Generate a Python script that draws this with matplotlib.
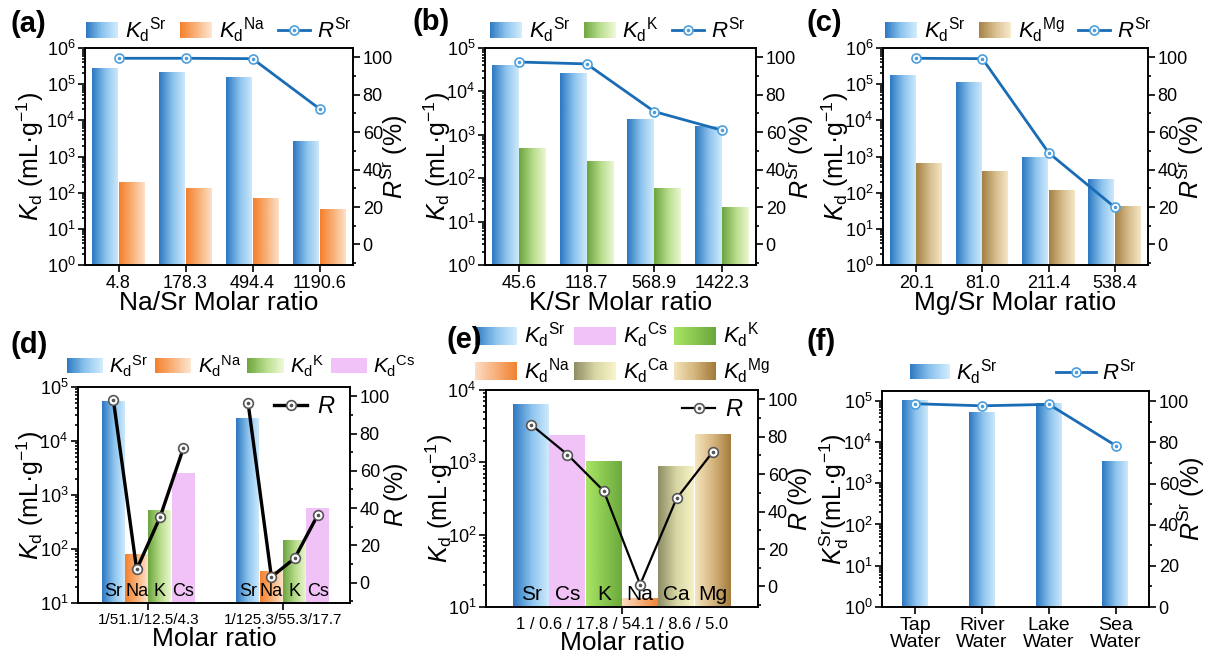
import numpy as np
import matplotlib
matplotlib.use("Agg")
import matplotlib.pyplot as plt
from matplotlib.colors import LinearSegmentedColormap
from matplotlib.legend_handler import HandlerBase
from matplotlib.patches import Rectangle
from matplotlib.ticker import LogLocator, MultipleLocator, NullFormatter, NullLocator

plt.rcParams["font.family"] = ["Liberation Sans", "DejaVu Sans"]
plt.rcParams["mathtext.fontset"] = "custom"
plt.rcParams["mathtext.rm"] = "Liberation Sans"
plt.rcParams["mathtext.it"] = "Liberation Sans:italic"
plt.rcParams["mathtext.bf"] = "Liberation Sans:bold"
plt.rcParams["axes.linewidth"] = 1.2

# (a) Na/Sr
na_ratio = ["4.8", "178.3", "494.4", "1190.6"]
a_kd_sr = [2.8e5, 2.3e5, 1.6e5, 2.7e3]
a_kd_na = [210, 135, 72, 37]
a_r_sr = [99.5, 99.5, 99.3, 72.5]

# (b) K/Sr
k_ratio = ["45.6", "118.7", "568.9", "1422.3"]
b_kd_sr = [4.1e4, 2.7e4, 2.4e3, 1.6e3]
b_kd_k = [500, 250, 60, 22]
b_r_sr = [97.5, 96.5, 71.0, 61.0]

# (c) Mg/Sr
mg_ratio = ["20.1", "81.0", "211.4", "538.4"]
c_kd_sr = [1.9e5, 1.15e5, 1.0e3, 250]
c_kd_mg = [680, 400, 125, 43]
c_r_sr = [99.5, 99.3, 49.0, 19.8]

# (d) mixed Na/K/Cs
d_ratio = ["1/51.1/12.5/4.3", "1/125.3/55.3/17.7"]
d_ions = ["Sr", "Na", "K", "Cs"]
d_kd_sr = [5.7e4, 2.7e4]
d_kd_na = [84, 40]
d_kd_k = [550, 152]
d_kd_cs = [2.6e3, 580]
d_r_g1 = [98, 7, 35, 72]
d_r_g2 = [96.5, 3, 13, 36.5]

# (e) all ions
e_ions = ["Sr", "Cs", "K", "Na", "Ca", "Mg"]
e_ratio = "1 / 0.6 / 17.8 / 54.1 / 8.6 / 5.0"
e_kd = [6.6e3, 2.4e3, 1.05e3, 13.5, 900, 2.5e3]
e_r = [86.5, 70.5, 51, 1, 47, 72]

# (f) real waters
waters = ["Tap\nWater", "River\nWater", "Lake\nWater", "Sea\nWater"]
f_kd_sr = [1.05e5, 5.6e4, 9.0e4, 3.6e3]
f_r_sr = [98.8, 97.8, 98.5, 78.5]

BLUE = ["#2f7ac2", "#8cc3ee", "#d2ecfc"]
ORANGE = ["#f5812e", "#f9b27a", "#fde6d2"]
GREEN = ["#6ea640", "#b6dc8a", "#eef8d6"]
MG = ["#a58246", "#d6bd8c", "#f7eacb"]
PINK = ["#f0c2f7", "#f0c2f7"]
E_NA = ["#fddcc4", "#f08232"]
E_K = ["#a8e464", "#6aa83c"]
E_CA = ["#8f8e66", "#d8d6a4", "#f8f4c8"]
E_MG = ["#f4e4bc", "#d4b47c", "#a27a3a"]
RLINE = "#1a6db5"
RMARK = "#4d9fdc"

W, H = 1206, 654
fig = plt.figure(figsize=(12.06, 6.54), dpi=100)


def add_ax(l, t, r, b):
    return fig.add_axes([l / W, 1 - b / H, (r - l) / W, (b - t) / H])


def cmap_of(cols):
    return LinearSegmentedColormap.from_list("g", cols)


def grad_bar(ax, x, h, w, cols, bottom):
    h = np.asarray(h, dtype=float)
    bars = ax.bar(x, h - bottom, w, bottom=bottom, color="none", edgecolor="none")
    grad = np.linspace(0, 1, 128).reshape(1, -1)
    for b in bars:
        x0, y0 = b.get_x(), b.get_y()
        im = ax.imshow(grad, cmap=cmap_of(cols), aspect="auto", interpolation="bilinear",
                       extent=(x0, x0 + b.get_width(), y0, y0 + b.get_height()), zorder=1)
        im.set_clip_path(b)
    return bars


class GradHandler(HandlerBase):
    def __init__(self, cols, n=40):
        super().__init__()
        self.cols, self.n = cols, n

    def create_artists(self, legend, orig_handle, xdescent, ydescent, width, height,
                       fontsize, trans):
        cm = cmap_of(self.cols)
        out = []
        for i in range(self.n):
            out.append(Rectangle((-xdescent + width * i / self.n, -ydescent),
                                 width / self.n * 1.08, height, facecolor=cm(i / (self.n - 1)),
                                 edgecolor="none", transform=trans))
        return out


def proxy(cols, hmap):
    p = Rectangle((0, 0), 1, 1)
    hmap[p] = GradHandler(cols)
    return p


def style(ax, ax2, ylo, yhi, rlo=-11, rhi=105):
    ax.set_yscale("log")
    ax.set_ylim(ylo, yhi)
    ax.yaxis.set_major_locator(LogLocator(base=10, numticks=12))
    ax.yaxis.set_minor_locator(LogLocator(base=10, subs=np.arange(2, 10), numticks=30))
    ax.yaxis.set_minor_formatter(NullFormatter())
    ax.xaxis.set_minor_locator(NullLocator())
    ax.tick_params(which="both", direction="out", width=1.2, labelsize=13, pad=2)
    ax.tick_params(which="major", length=5)
    ax.tick_params(which="minor", length=2.5)
    ax2.set_ylim(rlo, rhi)
    ax2.yaxis.set_major_locator(MultipleLocator(20))
    ax2.yaxis.set_minor_locator(MultipleLocator(10))
    ax2.tick_params(which="both", direction="out", width=1.2, labelsize=13, pad=2)
    ax2.tick_params(which="major", length=5)
    ax2.tick_params(which="minor", length=2.5)


def labels(ax, ax2, xlab, xy, ylab, ly, rlab, ry):
    if xlab:
        ax.set_xlabel(xlab, fontsize=19)
        ax.xaxis.set_label_coords(0.5, xy)
        ax.xaxis.label.set_va("center")
    ax.set_ylabel(ylab, fontsize=18)
    ax.yaxis.set_label_coords(ly, 0.5)
    ax.yaxis.label.set_va("center")
    ax2.set_ylabel(rlab, fontsize=18)
    ax2.yaxis.set_label_coords(ry, 0.5)
    ax2.yaxis.label.set_va("center")


def r_line(ax2, x, y, color, mec, lw, ms):
    ln, = ax2.plot(x, y, color=color, lw=lw, marker="o", ms=ms, mfc="white", mec=mec,
                   mew=1.2, zorder=3)
    dot, = ax2.plot(x, y, ls="none", marker="o", ms=1.6, color=mec, zorder=4)
    return ln, dot


KD = r"$K_{\mathrm{d}}$ (mL·g$^{-1}$)"
RSR = r"$R^{\mathrm{Sr}}$ (%)"


def kd_leg(ion):
    return r"$K_{\mathrm{d}}{}^{\mathrm{%s}}$" % ion


def top_panel(l, r, cats, sr, other, ocols, oion, rr, ymax, xlab, llab, rlab, leg_x):
    ax = add_ax(l, 48, r, 265)
    ax2 = ax.twinx()
    x = np.arange(len(cats))
    grad_bar(ax, x - 0.2, sr, 0.4, BLUE, 1)
    grad_bar(ax, x + 0.2, other, 0.4, ocols, 1)
    ln, dot = r_line(ax2, x, rr, RLINE, RMARK, 2.0, 6.5)
    style(ax, ax2, 1, ymax)
    ax.set_xlim(-0.5, 3.5)
    ax.set_xticks(x)
    ax.set_xticklabels(cats)
    labels(ax, ax2, xlab, -0.176, KD, llab, RSR, rlab)
    hm = {}
    hs = [proxy(BLUE, hm), proxy(ocols, hm), (ln, dot)]
    ax2.legend(hs, [kd_leg("Sr"), kd_leg(oion), r"$R^{\mathrm{Sr}}$"], handler_map=hm,
               loc="lower center", bbox_to_anchor=(leg_x, 1.0), ncol=3, frameon=False,
               fontsize=16, handlelength=1.45, handletextpad=0.3, columnspacing=0.6,
               borderpad=0.15, borderaxespad=0)
    return ax, ax2


top_panel(85, 353, na_ratio, a_kd_sr, a_kd_na, ORANGE, "Na", a_r_sr, 1e6,
          "Na/Sr Molar ratio", -0.205, 1.155, 0.5)
top_panel(485, 756, k_ratio, b_kd_sr, b_kd_k, GREEN, "K", b_r_sr, 1e5,
          "K/Sr Molar ratio", -0.175, 1.162, 0.49)
top_panel(883, 1148, mg_ratio, c_kd_sr, c_kd_mg, MG, "Mg", c_r_sr, 1e6,
          "Mg/Sr Molar ratio", -0.18, 1.16, 0.51)

# (d)
ax = add_ax(78, 387, 350, 603)
ax2 = ax.twinx()
g = np.arange(len(d_ratio))
bw = 0.173
offs = np.array([-1.5, -0.5, 0.5, 1.5]) * bw
d_cols = [BLUE, ORANGE, GREEN, PINK]
for k, (vals, cols) in enumerate(zip([d_kd_sr, d_kd_na, d_kd_k, d_kd_cs], d_cols)):
    grad_bar(ax, g + offs[k], vals, bw, cols, 10)
    for gi in g:
        ax.text(gi + offs[k], 0.012, d_ions[k], transform=ax.get_xaxis_transform(),
                ha="center", va="bottom", fontsize=13, zorder=5)
for gi, rv in zip(g, [d_r_g1, d_r_g2]):
    ln, dot = r_line(ax2, gi + offs, rv, "black", "#555555", 2.4, 7)
style(ax, ax2, 10, 1e5)
ax.set_xlim(-0.522, 1.497)
ax.set_xticks(g)
ax.set_xticklabels(d_ratio, fontsize=11)
labels(ax, ax2, "Molar ratio", -0.165, KD, -0.175, r"$R$ (%)", 1.17)
hm = {}
hs = [proxy(c, hm) for c in d_cols]
ax.legend(hs, [kd_leg(i) for i in d_ions], handler_map=hm, loc="lower center",
          bbox_to_anchor=(0.6, 1.02), ncol=4, frameon=False, fontsize=15,
          handlelength=1.75, handletextpad=0.3, columnspacing=0.3, borderpad=0.2,
          borderaxespad=0)
ax2.legend([(ln, dot)], [r"$R$"], loc="upper right", bbox_to_anchor=(0.98, 1.0),
           frameon=False, fontsize=17, handlelength=1.4, handletextpad=0.4, borderaxespad=0)

# (e)
ax = add_ax(486, 390, 758, 607)
ax2 = ax.twinx()
xe = np.arange(len(e_ions))
e_cols = [BLUE, PINK, E_K, E_NA, E_CA, E_MG]
for i in range(len(e_ions)):
    grad_bar(ax, xe[i:i + 1], e_kd[i:i + 1], 1.0, e_cols[i], 10)
    ax.text(xe[i], 0.015, e_ions[i], transform=ax.get_xaxis_transform(),
            ha="center", va="bottom", fontsize=15, zorder=5)
ln, dot = r_line(ax2, xe, e_r, "black", "#555555", 1.6, 7)
style(ax, ax2, 10, 1e4)
ax.set_xlim(-1.24, 6.24)
ax.set_xticks([xe.mean()])
ax.set_xticklabels([e_ratio], fontsize=12)
labels(ax, ax2, "Molar ratio", -0.168, KD, -0.17, r"$R$ (%)", 1.155)
hm = {}
order = [0, 3, 1, 4, 2, 5]
hs = [proxy(e_cols[i], hm) for i in order]
ax.legend(hs, [kd_leg(e_ions[i]) for i in order], handler_map=hm, loc="lower center",
          bbox_to_anchor=(0.5, 1.0), ncol=3, frameon=False, fontsize=16,
          handlelength=1.9, handleheight=0.9, handletextpad=0.3, columnspacing=0.2,
          labelspacing=0.25, borderpad=0.2, borderaxespad=0)
ax2.legend([(ln, dot)], [r"$R$"], loc="upper right", bbox_to_anchor=(0.98, 1.0),
           frameon=False, fontsize=17, handlelength=1.4, handletextpad=0.4, borderaxespad=0)

# (f)
ax = add_ax(882, 391, 1149, 607)
ax2 = ax.twinx()
xf = np.arange(len(waters))
grad_bar(ax, xf, f_kd_sr, 0.4, BLUE, 1)
ln, dot = r_line(ax2, xf, f_r_sr, RLINE, RMARK, 2.0, 6.5)
style(ax, ax2, 1, 1.72e5, 0, 105)
ax.set_xlim(-0.5, 3.5)
ax.set_xticks(xf)
ax.set_xticklabels(waters, fontsize=14, linespacing=1.05)
labels(ax, ax2, None, 0, r"$K_{\mathrm{d}}^{\mathrm{Sr}}$(mL·g$^{-1}$)", -0.178, RSR, 1.158)
hm = {}
ax.legend([proxy(BLUE, hm), (ln, dot)], [kd_leg("Sr"), r"$R^{\mathrm{Sr}}$"], handler_map=hm,
          loc="lower center", bbox_to_anchor=(0.53, 1.0), ncol=2, frameon=False, fontsize=16,
          handlelength=1.8, handletextpad=0.3, columnspacing=2.6, borderpad=0.2,
          borderaxespad=0)

# panel letters
for lab, px, py in [("(a)", 10, 24), ("(b)", 413, 22), ("(c)", 807, 23),
                    ("(d)", 10, 345), ("(e)", 447, 340), ("(f)", 807, 342)]:
    fig.text(px / W, 1 - py / H, lab, fontsize=21, fontweight="bold", va="center", ha="left")

fig.savefig("out.png", dpi=100)
